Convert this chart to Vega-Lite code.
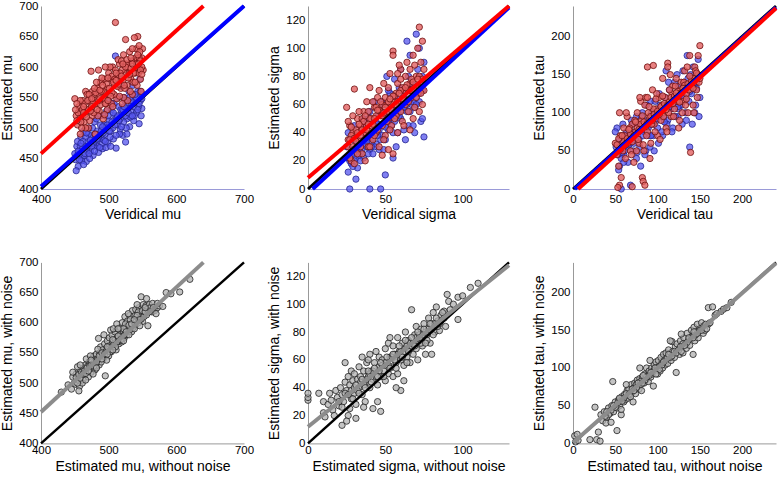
{
"$schema":"https://vega.github.io/schema/vega-lite/v6.json",
"padding":{"left":0,"top":-2,"right":0,"bottom":0},
"config":{"view":{"stroke":null},"font":"Liberation Sans",
"axis":{"grid":false,"ticks":false,"labelFont":"Liberation Sans","labelFontSize":11.5,"labelColor":"#000","titleFont":"Liberation Sans","titleFontSize":14,"titleFontWeight":"normal","titleColor":"#000","domainColor":"#999","labelPadding":3,"titlePadding":4,"labelFlush":false,"labelOverlap":false,"labelBound":false},
"axisX":{"labelPadding":4,"titlePadding":3}},
"datasets":{
"p1b":[{"x":451,"y":448},{"x":453,"y":470},{"x":455,"y":437},{"x":452,"y":430},{"x":457,"y":462},{"x":459,"y":485},{"x":461,"y":452},{"x":463,"y":495},{"x":465,"y":470},{"x":467,"y":445},{"x":469,"y":478},{"x":471,"y":500},{"x":473,"y":462},{"x":475,"y":488},{"x":477,"y":455},{"x":479,"y":510},{"x":481,"y":472},{"x":483,"y":495},{"x":485,"y":460},{"x":487,"y":520},{"x":489,"y":483},{"x":491,"y":466},{"x":493,"y":505},{"x":495,"y":490},{"x":497,"y":528},{"x":499,"y":475},{"x":501,"y":512},{"x":503,"y":495},{"x":505,"y":540},{"x":507,"y":482},{"x":509,"y":520},{"x":511,"y":467},{"x":513,"y":505},{"x":515,"y":535},{"x":517,"y":498},{"x":519,"y":525},{"x":521,"y":488},{"x":523,"y":550},{"x":525,"y":477},{"x":527,"y":515},{"x":529,"y":540},{"x":531,"y":502},{"x":533,"y":528},{"x":535,"y":555},{"x":537,"y":512},{"x":539,"y":540},{"x":541,"y":525},{"x":543,"y":560},{"x":545,"y":507},{"x":547,"y":545},{"x":549,"y":532},{"x":550,"y":555},{"x":548,"y":520},{"x":546,"y":580},{"x":544,"y":535},{"x":542,"y":600},{"x":540,"y":548},{"x":538,"y":520},{"x":536,"y":570},{"x":534,"y":540},{"x":532,"y":518},{"x":530,"y":560},{"x":528,"y":532},{"x":526,"y":500},{"x":524,"y":545},{"x":522,"y":510},{"x":520,"y":568},{"x":518,"y":530},{"x":516,"y":490},{"x":514,"y":550},{"x":512,"y":518},{"x":510,"y":618},{"x":508,"y":540},{"x":506,"y":500},{"x":504,"y":530},{"x":502,"y":485},{"x":500,"y":545},{"x":498,"y":505},{"x":496,"y":468},{"x":494,"y":520},{"x":492,"y":492},{"x":490,"y":475},{"x":488,"y":505},{"x":486,"y":482},{"x":484,"y":470},{"x":482,"y":515},{"x":480,"y":488},{"x":478,"y":470},{"x":476,"y":500},{"x":474,"y":475},{"x":472,"y":450},{"x":470,"y":490},{"x":468,"y":462},{"x":466,"y":485},{"x":464,"y":455},{"x":462,"y":478},{"x":460,"y":446},{"x":458,"y":470},{"x":456,"y":455},{"x":454,"y":478},{"x":453,"y":455},{"x":457,"y":448},{"x":461,"y":465},{"x":465,"y":458},{"x":469,"y":470},{"x":473,"y":480},{"x":477,"y":475},{"x":481,"y":490},{"x":485,"y":485},{"x":489,"y":495},{"x":493,"y":480},{"x":497,"y":500},{"x":501,"y":495},{"x":505,"y":510},{"x":509,"y":505},{"x":513,"y":520},{"x":517,"y":515},{"x":521,"y":530},{"x":525,"y":520},{"x":529,"y":525},{"x":533,"y":545},{"x":537,"y":535},{"x":541,"y":550},{"x":545,"y":540},{"x":549,"y":548},{"x":459,"y":475},{"x":467,"y":492},{"x":475,"y":470},{"x":483,"y":482},{"x":491,"y":502},{"x":499,"y":520},{"x":507,"y":525},{"x":515,"y":512},{"x":523,"y":535},{"x":531,"y":550},{"x":539,"y":555},{"x":547,"y":560},{"x":463,"y":440},{"x":471,"y":458},{"x":479,"y":462},{"x":487,"y":468},{"x":495,"y":478},{"x":503,"y":470},{"x":511,"y":488},{"x":519,"y":502},{"x":527,"y":490},{"x":535,"y":520},{"x":543,"y":530},{"x":450,"y":458},{"x":455,"y":462}],
"p1r":[{"x":450,"y":548},{"x":452,"y":520},{"x":454,"y":505},{"x":456,"y":535},{"x":458,"y":490},{"x":460,"y":525},{"x":462,"y":545},{"x":464,"y":510},{"x":466,"y":560},{"x":468,"y":530},{"x":470,"y":500},{"x":472,"y":548},{"x":474,"y":593},{"x":476,"y":520},{"x":478,"y":555},{"x":480,"y":490},{"x":482,"y":540},{"x":484,"y":565},{"x":486,"y":528},{"x":488,"y":575},{"x":490,"y":545},{"x":492,"y":515},{"x":494,"y":580},{"x":496,"y":555},{"x":498,"y":530},{"x":500,"y":590},{"x":502,"y":560},{"x":504,"y":540},{"x":506,"y":600},{"x":508,"y":572},{"x":510,"y":673},{"x":512,"y":548},{"x":514,"y":585},{"x":516,"y":605},{"x":518,"y":565},{"x":520,"y":540},{"x":522,"y":620},{"x":524,"y":590},{"x":525,"y":645},{"x":527,"y":570},{"x":529,"y":600},{"x":531,"y":625},{"x":533,"y":580},{"x":535,"y":555},{"x":537,"y":610},{"x":539,"y":590},{"x":541,"y":630},{"x":543,"y":650},{"x":545,"y":600},{"x":547,"y":580},{"x":549,"y":615},{"x":551,"y":595},{"x":550,"y":630},{"x":548,"y":560},{"x":546,"y":625},{"x":544,"y":590},{"x":542,"y":570},{"x":540,"y":615},{"x":538,"y":598},{"x":536,"y":575},{"x":534,"y":610},{"x":532,"y":560},{"x":530,"y":590},{"x":528,"y":545},{"x":526,"y":605},{"x":524,"y":565},{"x":522,"y":550},{"x":520,"y":595},{"x":518,"y":580},{"x":516,"y":552},{"x":514,"y":612},{"x":512,"y":570},{"x":510,"y":595},{"x":508,"y":555},{"x":506,"y":535},{"x":504,"y":580},{"x":502,"y":600},{"x":500,"y":555},{"x":498,"y":565},{"x":496,"y":540},{"x":494,"y":522},{"x":492,"y":560},{"x":490,"y":582},{"x":488,"y":538},{"x":486,"y":555},{"x":484,"y":520},{"x":482,"y":575},{"x":480,"y":545},{"x":478,"y":525},{"x":476,"y":560},{"x":474,"y":540},{"x":472,"y":512},{"x":470,"y":530},{"x":468,"y":555},{"x":466,"y":500},{"x":464,"y":540},{"x":462,"y":520},{"x":460,"y":500},{"x":458,"y":545},{"x":455,"y":525},{"x":535,"y":630},{"x":538,"y":648},{"x":545,"y":635},{"x":519,"y":610},{"x":505,"y":585},{"x":495,"y":600},{"x":485,"y":595},{"x":457,"y":515},{"x":461,"y":530},{"x":465,"y":522},{"x":469,"y":545},{"x":473,"y":528},{"x":477,"y":540},{"x":481,"y":558},{"x":485,"y":545},{"x":489,"y":560},{"x":493,"y":548},{"x":497,"y":572},{"x":501,"y":565},{"x":505,"y":558},{"x":509,"y":580},{"x":513,"y":568},{"x":517,"y":590},{"x":521,"y":578},{"x":525,"y":600},{"x":529,"y":582},{"x":533,"y":598},{"x":537,"y":590},{"x":541,"y":605},{"x":545,"y":615},{"x":549,"y":600},{"x":459,"y":510},{"x":463,"y":535},{"x":467,"y":518},{"x":471,"y":555},{"x":475,"y":535},{"x":479,"y":565},{"x":483,"y":530},{"x":487,"y":562},{"x":491,"y":570},{"x":495,"y":540},{"x":499,"y":582},{"x":503,"y":552},{"x":507,"y":575},{"x":511,"y":590},{"x":515,"y":572},{"x":519,"y":585},{"x":523,"y":570},{"x":527,"y":612},{"x":531,"y":588},{"x":535,"y":605},{"x":539,"y":575},{"x":543,"y":620},{"x":547,"y":595},{"x":451,"y":530},{"x":453,"y":540},{"x":547,"y":610},{"x":544,"y":605},{"x":533,"y":615},{"x":521,"y":605},{"x":511,"y":578},{"x":499,"y":545},{"x":487,"y":548},{"x":475,"y":548},{"x":463,"y":525},{"x":453,"y":512},{"x":549,"y":588}],
"p2b":[{"x":27,"y":0},{"x":40,"y":0},{"x":47,"y":0},{"x":31,"y":7},{"x":50,"y":10},{"x":26,"y":12},{"x":28,"y":18},{"x":30,"y":25},{"x":32,"y":15},{"x":34,"y":30},{"x":36,"y":22},{"x":38,"y":35},{"x":40,"y":28},{"x":42,"y":40},{"x":44,"y":32},{"x":46,"y":45},{"x":48,"y":38},{"x":50,"y":52},{"x":52,"y":42},{"x":54,"y":58},{"x":56,"y":48},{"x":58,"y":62},{"x":60,"y":50},{"x":62,"y":66},{"x":64,"y":105},{"x":66,"y":55},{"x":68,"y":72},{"x":70,"y":110},{"x":72,"y":62},{"x":74,"y":80},{"x":75,"y":37},{"x":73,"y":48},{"x":71,"y":68},{"x":69,"y":58},{"x":67,"y":75},{"x":65,"y":45},{"x":63,"y":60},{"x":61,"y":70},{"x":59,"y":52},{"x":57,"y":65},{"x":55,"y":40},{"x":53,"y":68},{"x":51,"y":45},{"x":49,"y":60},{"x":47,"y":35},{"x":45,"y":52},{"x":43,"y":30},{"x":41,"y":48},{"x":39,"y":25},{"x":37,"y":45},{"x":35,"y":28},{"x":33,"y":40},{"x":31,"y":22},{"x":29,"y":35},{"x":27,"y":20},{"x":25,"y":30},{"x":26,"y":40},{"x":28,"y":28},{"x":30,"y":45},{"x":32,"y":33},{"x":34,"y":20},{"x":36,"y":50},{"x":38,"y":30},{"x":40,"y":55},{"x":42,"y":25},{"x":44,"y":48},{"x":46,"y":28},{"x":48,"y":62},{"x":50,"y":35},{"x":52,"y":70},{"x":54,"y":45},{"x":56,"y":78},{"x":58,"y":40},{"x":60,"y":85},{"x":62,"y":42},{"x":64,"y":55},{"x":66,"y":95},{"x":68,"y":45},{"x":70,"y":65},{"x":72,"y":100},{"x":74,"y":50},{"x":75,"y":90},{"x":73,"y":75},{"x":71,"y":85},{"x":69,"y":40},{"x":67,"y":60},{"x":65,"y":80},{"x":63,"y":35},{"x":61,"y":58},{"x":59,"y":72},{"x":57,"y":30},{"x":55,"y":22},{"x":53,"y":50},{"x":51,"y":80},{"x":49,"y":28},{"x":47,"y":55},{"x":45,"y":38},{"x":43,"y":62},{"x":41,"y":33},{"x":39,"y":50},{"x":28,"y":24},{"x":32,"y":28},{"x":36,"y":32},{"x":40,"y":38},{"x":44,"y":40},{"x":48,"y":46},{"x":52,"y":48},{"x":56,"y":52},{"x":60,"y":56},{"x":64,"y":60},{"x":68,"y":62},{"x":72,"y":68},{"x":30,"y":20},{"x":34,"y":26},{"x":38,"y":34},{"x":42,"y":36},{"x":46,"y":42},{"x":50,"y":44},{"x":54,"y":52},{"x":58,"y":54},{"x":62,"y":58},{"x":66,"y":64},{"x":70,"y":60},{"x":74,"y":70},{"x":26,"y":22},{"x":29,"y":16},{"x":33,"y":24},{"x":37,"y":36},{"x":41,"y":30},{"x":45,"y":46}],
"p2r":[{"x":25,"y":58},{"x":26,"y":35},{"x":27,"y":45},{"x":28,"y":20},{"x":29,"y":40},{"x":30,"y":71},{"x":31,"y":28},{"x":32,"y":50},{"x":33,"y":35},{"x":34,"y":45},{"x":35,"y":25},{"x":36,"y":55},{"x":37,"y":40},{"x":38,"y":62},{"x":39,"y":30},{"x":40,"y":72},{"x":41,"y":45},{"x":42,"y":35},{"x":43,"y":58},{"x":44,"y":40},{"x":45,"y":65},{"x":46,"y":30},{"x":47,"y":55},{"x":48,"y":45},{"x":49,"y":75},{"x":50,"y":38},{"x":51,"y":60},{"x":52,"y":50},{"x":53,"y":82},{"x":54,"y":45},{"x":55,"y":98},{"x":56,"y":62},{"x":57,"y":52},{"x":58,"y":75},{"x":59,"y":58},{"x":60,"y":85},{"x":61,"y":48},{"x":62,"y":70},{"x":63,"y":60},{"x":64,"y":90},{"x":65,"y":55},{"x":66,"y":75},{"x":67,"y":65},{"x":68,"y":95},{"x":69,"y":58},{"x":70,"y":80},{"x":71,"y":68},{"x":72,"y":115},{"x":73,"y":72},{"x":74,"y":105},{"x":75,"y":85},{"x":74,"y":60},{"x":73,"y":90},{"x":72,"y":55},{"x":71,"y":100},{"x":70,"y":65},{"x":69,"y":88},{"x":68,"y":50},{"x":67,"y":78},{"x":66,"y":42},{"x":65,"y":70},{"x":64,"y":62},{"x":63,"y":80},{"x":62,"y":45},{"x":61,"y":72},{"x":60,"y":55},{"x":59,"y":88},{"x":58,"y":40},{"x":57,"y":68},{"x":56,"y":50},{"x":55,"y":95},{"x":54,"y":60},{"x":53,"y":42},{"x":52,"y":72},{"x":51,"y":55},{"x":50,"y":65},{"x":49,"y":35},{"x":48,"y":60},{"x":47,"y":52},{"x":46,"y":70},{"x":45,"y":42},{"x":44,"y":58},{"x":43,"y":38},{"x":42,"y":62},{"x":41,"y":50},{"x":40,"y":30},{"x":39,"y":55},{"x":38,"y":45},{"x":37,"y":20},{"x":36,"y":40},{"x":35,"y":50},{"x":34,"y":30},{"x":33,"y":55},{"x":32,"y":25},{"x":31,"y":42},{"x":30,"y":18},{"x":29,"y":52},{"x":28,"y":38},{"x":27,"y":22},{"x":26,"y":48},{"x":55,"y":25},{"x":48,"y":24},{"x":52,"y":28},{"x":60,"y":78},{"x":58,"y":82},{"x":66,"y":85},{"x":26,"y":30},{"x":28,"y":44},{"x":30,"y":36},{"x":32,"y":40},{"x":34,"y":38},{"x":36,"y":48},{"x":38,"y":42},{"x":40,"y":50},{"x":42,"y":46},{"x":44,"y":52},{"x":46,"y":56},{"x":48,"y":52},{"x":50,"y":58},{"x":52,"y":62},{"x":54,"y":56},{"x":56,"y":66},{"x":58,"y":62},{"x":60,"y":70},{"x":62,"y":64},{"x":64,"y":74},{"x":66,"y":70},{"x":68,"y":76},{"x":70,"y":72},{"x":72,"y":80},{"x":74,"y":78},{"x":27,"y":35},{"x":31,"y":34},{"x":35,"y":42},{"x":39,"y":46},{"x":43,"y":50},{"x":47,"y":62},{"x":51,"y":48},{"x":55,"y":66},{"x":59,"y":68},{"x":63,"y":72},{"x":67,"y":70},{"x":71,"y":78},{"x":75,"y":70},{"x":29,"y":30},{"x":33,"y":46},{"x":37,"y":52},{"x":41,"y":40},{"x":45,"y":56},{"x":49,"y":54},{"x":53,"y":64},{"x":57,"y":60},{"x":61,"y":64},{"x":65,"y":62},{"x":69,"y":70},{"x":73,"y":68}],
"p3b":[{"x":52,"y":80},{"x":55,"y":30},{"x":57,"y":0},{"x":60,"y":45},{"x":62,"y":70},{"x":65,"y":55},{"x":68,"y":5},{"x":70,"y":85},{"x":72,"y":60},{"x":75,"y":95},{"x":78,"y":65},{"x":80,"y":30},{"x":82,"y":100},{"x":84,"y":75},{"x":86,"y":50},{"x":88,"y":90},{"x":90,"y":70},{"x":92,"y":115},{"x":94,"y":85},{"x":96,"y":50},{"x":98,"y":100},{"x":100,"y":80},{"x":102,"y":125},{"x":104,"y":95},{"x":106,"y":70},{"x":108,"y":110},{"x":110,"y":155},{"x":112,"y":90},{"x":114,"y":130},{"x":116,"y":105},{"x":118,"y":80},{"x":120,"y":140},{"x":122,"y":115},{"x":124,"y":95},{"x":126,"y":135},{"x":128,"y":110},{"x":130,"y":155},{"x":132,"y":120},{"x":134,"y":90},{"x":136,"y":145},{"x":138,"y":55},{"x":140,"y":125},{"x":142,"y":160},{"x":144,"y":100},{"x":146,"y":140},{"x":148,"y":170},{"x":150,"y":120},{"x":149,"y":95},{"x":147,"y":150},{"x":145,"y":110},{"x":143,"y":135},{"x":141,"y":85},{"x":139,"y":150},{"x":137,"y":115},{"x":135,"y":175},{"x":133,"y":100},{"x":131,"y":140},{"x":129,"y":85},{"x":127,"y":125},{"x":125,"y":105},{"x":123,"y":150},{"x":121,"y":95},{"x":119,"y":120},{"x":117,"y":75},{"x":115,"y":110},{"x":113,"y":140},{"x":111,"y":85},{"x":109,"y":120},{"x":107,"y":95},{"x":105,"y":75},{"x":103,"y":110},{"x":101,"y":60},{"x":99,"y":90},{"x":97,"y":115},{"x":95,"y":70},{"x":93,"y":100},{"x":91,"y":55},{"x":89,"y":80},{"x":87,"y":110},{"x":85,"y":45},{"x":83,"y":70},{"x":81,"y":95},{"x":79,"y":55},{"x":77,"y":85},{"x":75,"y":40},{"x":73,"y":75},{"x":71,"y":50},{"x":69,"y":90},{"x":67,"y":60},{"x":65,"y":35},{"x":63,"y":75},{"x":61,"y":50},{"x":59,"y":85},{"x":57,"y":40},{"x":55,"y":65},{"x":53,"y":45},{"x":51,"y":55},{"x":50,"y":75},{"x":54,"y":25},{"x":58,"y":60},{"x":54,"y":50},{"x":58,"y":48},{"x":62,"y":60},{"x":66,"y":58},{"x":70,"y":72},{"x":74,"y":64},{"x":78,"y":76},{"x":82,"y":78},{"x":86,"y":86},{"x":90,"y":84},{"x":94,"y":96},{"x":98,"y":92},{"x":102,"y":104},{"x":106,"y":100},{"x":110,"y":110},{"x":114,"y":108},{"x":118,"y":118},{"x":122,"y":112},{"x":126,"y":124},{"x":130,"y":120},{"x":134,"y":132},{"x":138,"y":128},{"x":142,"y":138},{"x":146,"y":132},{"x":150,"y":148},{"x":60,"y":35},{"x":76,"y":48},{"x":92,"y":70},{"x":108,"y":88},{"x":124,"y":108}],
"p3r":[{"x":50,"y":60},{"x":52,"y":45},{"x":54,"y":30},{"x":55,"y":100},{"x":56,"y":70},{"x":58,"y":55},{"x":60,"y":80},{"x":62,"y":40},{"x":64,"y":95},{"x":66,"y":65},{"x":68,"y":50},{"x":70,"y":85},{"x":72,"y":35},{"x":74,"y":75},{"x":76,"y":100},{"x":78,"y":60},{"x":80,"y":115},{"x":82,"y":85},{"x":84,"y":50},{"x":86,"y":120},{"x":88,"y":75},{"x":90,"y":95},{"x":92,"y":60},{"x":94,"y":130},{"x":96,"y":85},{"x":98,"y":105},{"x":100,"y":70},{"x":102,"y":120},{"x":104,"y":90},{"x":106,"y":145},{"x":108,"y":100},{"x":110,"y":80},{"x":112,"y":165},{"x":114,"y":115},{"x":116,"y":95},{"x":118,"y":135},{"x":120,"y":105},{"x":122,"y":145},{"x":124,"y":120},{"x":126,"y":90},{"x":128,"y":140},{"x":130,"y":115},{"x":132,"y":155},{"x":134,"y":125},{"x":136,"y":100},{"x":138,"y":175},{"x":140,"y":135},{"x":142,"y":110},{"x":144,"y":160},{"x":146,"y":130},{"x":148,"y":175},{"x":150,"y":188},{"x":149,"y":140},{"x":147,"y":120},{"x":145,"y":155},{"x":143,"y":100},{"x":141,"y":145},{"x":139,"y":48},{"x":137,"y":130},{"x":135,"y":160},{"x":133,"y":110},{"x":131,"y":140},{"x":129,"y":100},{"x":127,"y":130},{"x":125,"y":80},{"x":123,"y":115},{"x":121,"y":135},{"x":119,"y":95},{"x":117,"y":125},{"x":115,"y":150},{"x":113,"y":100},{"x":111,"y":75},{"x":109,"y":120},{"x":107,"y":95},{"x":105,"y":110},{"x":103,"y":65},{"x":101,"y":100},{"x":99,"y":125},{"x":97,"y":75},{"x":95,"y":105},{"x":93,"y":85},{"x":91,"y":40},{"x":89,"y":100},{"x":87,"y":70},{"x":85,"y":110},{"x":83,"y":58},{"x":81,"y":90},{"x":79,"y":120},{"x":77,"y":65},{"x":75,"y":50},{"x":73,"y":90},{"x":71,"y":70},{"x":69,"y":45},{"x":67,"y":80},{"x":65,"y":60},{"x":63,"y":100},{"x":61,"y":70},{"x":59,"y":50},{"x":57,"y":15},{"x":55,"y":5},{"x":82,"y":15},{"x":83,"y":10},{"x":85,"y":5},{"x":70,"y":3},{"x":53,"y":2},{"x":88,"y":160},{"x":95,"y":162},{"x":88,"y":120},{"x":112,"y":160},{"x":52,"y":58},{"x":56,"y":52},{"x":60,"y":62},{"x":64,"y":66},{"x":68,"y":72},{"x":72,"y":70},{"x":76,"y":80},{"x":80,"y":85},{"x":84,"y":88},{"x":88,"y":86},{"x":92,"y":95},{"x":96,"y":98},{"x":100,"y":102},{"x":104,"y":108},{"x":108,"y":112},{"x":112,"y":110},{"x":116,"y":120},{"x":120,"y":122},{"x":124,"y":128},{"x":128,"y":126},{"x":132,"y":136},{"x":136,"y":138},{"x":140,"y":142},{"x":144,"y":145},{"x":148,"y":150},{"x":54,"y":66},{"x":58,"y":70},{"x":62,"y":58},{"x":66,"y":78},{"x":70,"y":62},{"x":74,"y":88},{"x":78,"y":78},{"x":82,"y":96},{"x":86,"y":82},{"x":90,"y":108},{"x":94,"y":90},{"x":98,"y":118},{"x":102,"y":98},{"x":106,"y":122},{"x":110,"y":104},{"x":114,"y":130},{"x":118,"y":112},{"x":122,"y":126},{"x":126,"y":114},{"x":130,"y":132},{"x":134,"y":118},{"x":138,"y":148},{"x":142,"y":132},{"x":146,"y":152},{"x":150,"y":145}],
"p4":[{"x":430,"y":485},{"x":440,"y":497},{"x":445,"y":490},{"x":447,"y":510},{"x":449,"y":500},{"x":451,"y":498},{"x":452,"y":515},{"x":455,"y":505},{"x":457,"y":495},{"x":458,"y":520},{"x":460,"y":512},{"x":462,"y":505},{"x":463,"y":525},{"x":465,"y":515},{"x":466,"y":530},{"x":468,"y":520},{"x":470,"y":510},{"x":471,"y":535},{"x":472,"y":525},{"x":474,"y":518},{"x":475,"y":540},{"x":476,"y":528},{"x":478,"y":545},{"x":479,"y":532},{"x":480,"y":522},{"x":482,"y":548},{"x":483,"y":538},{"x":485,"y":574},{"x":486,"y":530},{"x":487,"y":550},{"x":488,"y":560},{"x":490,"y":545},{"x":491,"y":555},{"x":492,"y":540},{"x":494,"y":565},{"x":495,"y":512},{"x":496,"y":552},{"x":498,"y":570},{"x":499,"y":558},{"x":500,"y":545},{"x":501,"y":575},{"x":502,"y":562},{"x":504,"y":552},{"x":505,"y":580},{"x":506,"y":568},{"x":508,"y":560},{"x":509,"y":585},{"x":510,"y":572},{"x":511,"y":555},{"x":513,"y":590},{"x":514,"y":575},{"x":515,"y":565},{"x":517,"y":592},{"x":518,"y":580},{"x":519,"y":568},{"x":520,"y":600},{"x":522,"y":585},{"x":523,"y":575},{"x":524,"y":610},{"x":526,"y":592},{"x":527,"y":580},{"x":528,"y":603},{"x":530,"y":590},{"x":531,"y":612},{"x":533,"y":598},{"x":534,"y":585},{"x":535,"y":620},{"x":537,"y":605},{"x":538,"y":595},{"x":540,"y":622},{"x":541,"y":610},{"x":543,"y":600},{"x":545,"y":625},{"x":546,"y":615},{"x":548,"y":643},{"x":549,"y":620},{"x":551,"y":630},{"x":553,"y":615},{"x":555,"y":628},{"x":557,"y":622},{"x":560,"y":630},{"x":562,"y":625},{"x":565,"y":632},{"x":568,"y":620},{"x":572,"y":625},{"x":575,"y":628},{"x":580,"y":627},{"x":585,"y":650},{"x":592,"y":648},{"x":605,"y":651},{"x":620,"y":672},{"x":456,"y":487},{"x":461,"y":500},{"x":467,"y":540},{"x":473,"y":545},{"x":481,"y":528},{"x":489,"y":535},{"x":497,"y":538},{"x":503,"y":588},{"x":512,"y":598},{"x":516,"y":570},{"x":521,"y":578},{"x":525,"y":598},{"x":529,"y":615},{"x":532,"y":605},{"x":536,"y":592},{"x":539,"y":612},{"x":544,"y":618},{"x":550,"y":602},{"x":558,"y":595},{"x":447,"y":518},{"x":454,"y":527},{"x":469,"y":528},{"x":477,"y":515},{"x":484,"y":556},{"x":493,"y":580},{"x":507,"y":590},{"x":542,"y":630},{"x":556,"y":640},{"x":564,"y":618},{"x":452,"y":509},{"x":456,"y":514},{"x":460,"y":518},{"x":464,"y":520},{"x":468,"y":525},{"x":472,"y":529},{"x":476,"y":530},{"x":480,"y":537},{"x":484,"y":540},{"x":488,"y":545},{"x":492,"y":549},{"x":496,"y":552},{"x":500,"y":556},{"x":504,"y":560},{"x":508,"y":565},{"x":512,"y":568},{"x":516,"y":572},{"x":520,"y":577},{"x":524,"y":580},{"x":528,"y":585},{"x":532,"y":589},{"x":536,"y":592},{"x":540,"y":597},{"x":544,"y":600},{"x":548,"y":606},{"x":552,"y":610},{"x":556,"y":613},{"x":560,"y":618},{"x":566,"y":625},{"x":572,"y":632},{"x":454,"y":500},{"x":458,"y":508},{"x":462,"y":515},{"x":466,"y":516},{"x":470,"y":520},{"x":474,"y":530},{"x":478,"y":528},{"x":482,"y":535},{"x":486,"y":545},{"x":490,"y":550},{"x":494,"y":548},{"x":498,"y":560},{"x":502,"y":552},{"x":506,"y":572},{"x":510,"y":560},{"x":514,"y":578},{"x":518,"y":572},{"x":522,"y":590},{"x":526,"y":585},{"x":530,"y":596},{"x":534,"y":598},{"x":538,"y":590},{"x":542,"y":612},{"x":546,"y":605},{"x":550,"y":620},{"x":554,"y":618},{"x":458,"y":530},{"x":466,"y":505},{"x":474,"y":538},{"x":482,"y":525},{"x":490,"y":540},{"x":498,"y":548},{"x":506,"y":555},{"x":514,"y":590},{"x":522,"y":570},{"x":530,"y":580},{"x":538,"y":605},{"x":546,"y":595},{"x":554,"y":625},{"x":570,"y":615}],
"p5":[{"x":0,"y":31},{"x":0,"y":33},{"x":0,"y":36},{"x":7,"y":36},{"x":10,"y":30},{"x":10,"y":22},{"x":11,"y":19},{"x":13,"y":28},{"x":14,"y":36},{"x":15,"y":31},{"x":16,"y":24},{"x":17,"y":20},{"x":18,"y":38},{"x":19,"y":33},{"x":20,"y":27},{"x":21,"y":40},{"x":22,"y":13},{"x":22,"y":35},{"x":23,"y":30},{"x":24,"y":58},{"x":24,"y":44},{"x":25,"y":38},{"x":26,"y":20},{"x":26,"y":48},{"x":27,"y":42},{"x":28,"y":32},{"x":28,"y":52},{"x":29,"y":45},{"x":30,"y":36},{"x":30,"y":50},{"x":31,"y":28},{"x":32,"y":46},{"x":33,"y":55},{"x":33,"y":40},{"x":34,"y":48},{"x":35,"y":35},{"x":35,"y":62},{"x":36,"y":52},{"x":37,"y":44},{"x":37,"y":30},{"x":38,"y":58},{"x":39,"y":48},{"x":40,"y":40},{"x":40,"y":64},{"x":41,"y":52},{"x":42,"y":46},{"x":42,"y":25},{"x":43,"y":58},{"x":44,"y":50},{"x":44,"y":66},{"x":45,"y":42},{"x":46,"y":55},{"x":46,"y":62},{"x":47,"y":23},{"x":47,"y":48},{"x":48,"y":60},{"x":49,"y":52},{"x":50,"y":45},{"x":50,"y":68},{"x":51,"y":58},{"x":52,"y":50},{"x":52,"y":72},{"x":53,"y":62},{"x":54,"y":55},{"x":55,"y":70},{"x":55,"y":48},{"x":56,"y":64},{"x":57,"y":58},{"x":58,"y":76},{"x":58,"y":50},{"x":59,"y":66},{"x":60,"y":60},{"x":60,"y":38},{"x":61,"y":72},{"x":62,"y":56},{"x":63,"y":68},{"x":63,"y":80},{"x":64,"y":62},{"x":65,"y":74},{"x":66,"y":58},{"x":67,"y":96},{"x":67,"y":70},{"x":68,"y":64},{"x":69,"y":78},{"x":70,"y":68},{"x":70,"y":84},{"x":71,"y":60},{"x":72,"y":75},{"x":73,"y":82},{"x":74,"y":70},{"x":75,"y":86},{"x":76,"y":64},{"x":77,"y":78},{"x":78,"y":90},{"x":79,"y":72},{"x":80,"y":84},{"x":80,"y":64},{"x":81,"y":94},{"x":82,"y":80},{"x":83,"y":98},{"x":84,"y":88},{"x":85,"y":81},{"x":86,"y":92},{"x":88,"y":95},{"x":90,"y":107},{"x":91,"y":102},{"x":97,"y":89},{"x":97,"y":105},{"x":100,"y":106},{"x":105,"y":112},{"x":110,"y":115},{"x":53,"y":76},{"x":57,"y":40},{"x":62,"y":45},{"x":45,"y":30},{"x":36,"y":26},{"x":31,"y":18},{"x":27,"y":25},{"x":25,"y":16},{"x":39,"y":60},{"x":20,"y":30},{"x":22,"y":26},{"x":24,"y":36},{"x":26,"y":35},{"x":28,"y":38},{"x":30,"y":40},{"x":32,"y":38},{"x":34,"y":44},{"x":36,"y":42},{"x":38,"y":46},{"x":40,"y":50},{"x":42,"y":52},{"x":44,"y":48},{"x":46,"y":52},{"x":48,"y":56},{"x":50,"y":58},{"x":52,"y":56},{"x":54,"y":62},{"x":56,"y":60},{"x":58,"y":64},{"x":60,"y":66},{"x":62,"y":66},{"x":64,"y":70},{"x":66,"y":72},{"x":68,"y":72},{"x":70,"y":76},{"x":72,"y":78},{"x":74,"y":78},{"x":76,"y":80},{"x":78,"y":82},{"x":80,"y":86},{"x":82,"y":86},{"x":84,"y":84},{"x":86,"y":88},{"x":88,"y":90},{"x":29,"y":32},{"x":33,"y":36},{"x":37,"y":40},{"x":41,"y":44},{"x":45,"y":48},{"x":49,"y":48},{"x":53,"y":54},{"x":57,"y":54},{"x":61,"y":62},{"x":65,"y":66},{"x":69,"y":70},{"x":73,"y":72},{"x":77,"y":74},{"x":81,"y":78},{"x":85,"y":86},{"x":31,"y":42},{"x":35,"y":46},{"x":39,"y":52},{"x":43,"y":54},{"x":47,"y":58},{"x":51,"y":62},{"x":55,"y":64},{"x":59,"y":70},{"x":63,"y":74},{"x":67,"y":76},{"x":71,"y":80},{"x":75,"y":82},{"x":79,"y":86},{"x":83,"y":90},{"x":87,"y":94},{"x":92,"y":96},{"x":94,"y":100},{"x":89,"y":84},{"x":76,"y":72},{"x":64,"y":58}],
"p6":[{"x":2,"y":10},{"x":3,"y":2},{"x":5,"y":12},{"x":6,"y":4},{"x":20,"y":5},{"x":26,"y":48},{"x":28,"y":5},{"x":30,"y":15},{"x":32,"y":3},{"x":33,"y":38},{"x":35,"y":30},{"x":37,"y":42},{"x":39,"y":27},{"x":40,"y":35},{"x":42,"y":47},{"x":44,"y":40},{"x":45,"y":28},{"x":46,"y":50},{"x":47,"y":82},{"x":48,"y":42},{"x":50,"y":55},{"x":52,"y":17},{"x":52,"y":47},{"x":54,"y":58},{"x":55,"y":50},{"x":57,"y":38},{"x":58,"y":62},{"x":60,"y":55},{"x":61,"y":65},{"x":62,"y":58},{"x":64,"y":70},{"x":65,"y":60},{"x":66,"y":72},{"x":68,"y":65},{"x":69,"y":78},{"x":70,"y":68},{"x":72,"y":74},{"x":73,"y":80},{"x":74,"y":66},{"x":75,"y":78},{"x":76,"y":84},{"x":78,"y":72},{"x":79,"y":86},{"x":80,"y":78},{"x":81,"y":70},{"x":82,"y":88},{"x":84,"y":80},{"x":85,"y":92},{"x":86,"y":84},{"x":87,"y":100},{"x":88,"y":90},{"x":89,"y":82},{"x":90,"y":96},{"x":92,"y":88},{"x":93,"y":100},{"x":94,"y":92},{"x":95,"y":76},{"x":96,"y":104},{"x":97,"y":96},{"x":98,"y":108},{"x":99,"y":100},{"x":100,"y":92},{"x":101,"y":110},{"x":102,"y":102},{"x":103,"y":96},{"x":104,"y":114},{"x":105,"y":106},{"x":106,"y":100},{"x":107,"y":118},{"x":108,"y":110},{"x":109,"y":104},{"x":110,"y":120},{"x":111,"y":112},{"x":112,"y":106},{"x":113,"y":124},{"x":115,"y":118},{"x":116,"y":110},{"x":117,"y":135},{"x":118,"y":122},{"x":120,"y":114},{"x":121,"y":128},{"x":122,"y":94},{"x":123,"y":132},{"x":125,"y":124},{"x":126,"y":118},{"x":127,"y":136},{"x":129,"y":128},{"x":130,"y":120},{"x":131,"y":140},{"x":133,"y":132},{"x":134,"y":126},{"x":135,"y":146},{"x":137,"y":138},{"x":138,"y":130},{"x":140,"y":150},{"x":141,"y":142},{"x":143,"y":154},{"x":144,"y":136},{"x":145,"y":148},{"x":147,"y":158},{"x":148,"y":140},{"x":150,"y":152},{"x":152,"y":160},{"x":154,"y":146},{"x":156,"y":150},{"x":160,"y":180},{"x":165,"y":181},{"x":168,"y":170},{"x":175,"y":175},{"x":178,"y":178},{"x":182,"y":180},{"x":187,"y":187},{"x":115,"y":136},{"x":128,"y":145},{"x":142,"y":118},{"x":79,"y":100},{"x":63,"y":78},{"x":71,"y":55},{"x":91,"y":110},{"x":57,"y":45},{"x":40,"y":42},{"x":45,"y":44},{"x":50,"y":48},{"x":55,"y":56},{"x":60,"y":60},{"x":65,"y":64},{"x":70,"y":72},{"x":75,"y":74},{"x":80,"y":82},{"x":85,"y":84},{"x":90,"y":90},{"x":95,"y":96},{"x":100,"y":100},{"x":105,"y":104},{"x":110,"y":112},{"x":115,"y":114},{"x":120,"y":122},{"x":125,"y":124},{"x":130,"y":132},{"x":135,"y":134},{"x":140,"y":140},{"x":145,"y":144},{"x":150,"y":150},{"x":155,"y":156},{"x":160,"y":158},{"x":42,"y":38},{"x":48,"y":50},{"x":53,"y":54},{"x":58,"y":56},{"x":63,"y":66},{"x":67,"y":66},{"x":72,"y":70},{"x":77,"y":80},{"x":82,"y":80},{"x":87,"y":88},{"x":92,"y":94},{"x":97,"y":100},{"x":102,"y":98},{"x":107,"y":108},{"x":112,"y":114},{"x":117,"y":116},{"x":122,"y":120},{"x":127,"y":128},{"x":132,"y":130},{"x":137,"y":140},{"x":142,"y":140},{"x":147,"y":146},{"x":152,"y":150},{"x":157,"y":158},{"x":162,"y":160},{"x":38,"y":36},{"x":55,"y":60},{"x":68,"y":62},{"x":83,"y":90},{"x":98,"y":92},{"x":113,"y":118},{"x":128,"y":122},{"x":143,"y":148},{"x":158,"y":152},{"x":170,"y":172}]
},
"columns":3,
"spacing":{"row":73.4,"column":64},
"bounds":"flush",
"concat":[
{"width":203,"height":183,
"encoding":{"x":{"field":"x","type":"quantitative","scale":{"domain":[400,700],"nice":false,"zero":false},"axis":{"title":"Veridical mu","values":[400,500,600,700],"domainColor":"#9a9ad8"}},
"y":{"field":"y","type":"quantitative","scale":{"domain":[400,700],"nice":false,"zero":false},"axis":{"title":"Estimated mu","values":[400,450,500,550,600,650,700]}}},
"layer":[
{"data":{"name":"p1b"},"mark":{"type":"circle","size":40,"opacity":1,"fill":"#5656ee","fillOpacity":0.75,"stroke":"#26268f","strokeWidth":0.8}},
{"data":{"name":"p1r"},"mark":{"type":"circle","size":40,"opacity":1,"fill":"#e26262","fillOpacity":0.8,"stroke":"#6e0f0f","strokeWidth":0.8}},
{"data":{"values":[{"x":400,"y":400},{"x":700,"y":700}]},"mark":{"type":"line","color":"#000","strokeWidth":3},"encoding":{}},
{"data":{"values":[{"x":400,"y":404},{"x":700,"y":700}]},"mark":{"type":"line","color":"#0000ff","strokeWidth":4},"encoding":{}},
{"data":{"values":[{"x":400,"y":458},{"x":640,"y":700}]},"mark":{"type":"line","color":"#ff0000","strokeWidth":4},"encoding":{}}
]},
{"width":201,"height":183,
"encoding":{"x":{"field":"x","type":"quantitative","scale":{"domain":[0,130],"nice":false},"axis":{"title":"Veridical sigma","values":[0,50,100],"domainColor":"#9a9ad8"}},
"y":{"field":"y","type":"quantitative","scale":{"domain":[0,130],"nice":false},"axis":{"title":"Estimated sigma","values":[0,20,40,60,80,100,120]}}},
"layer":[
{"data":{"name":"p2b"},"mark":{"type":"circle","size":40,"opacity":1,"fill":"#5656ee","fillOpacity":0.75,"stroke":"#26268f","strokeWidth":0.8}},
{"data":{"name":"p2r"},"mark":{"type":"circle","size":40,"opacity":1,"fill":"#e26262","fillOpacity":0.8,"stroke":"#6e0f0f","strokeWidth":0.8}},
{"data":{"values":[{"x":0,"y":0},{"x":130,"y":130}]},"mark":{"type":"line","color":"#000","strokeWidth":3},"encoding":{}},
{"data":{"values":[{"x":3,"y":0},{"x":130,"y":129}]},"mark":{"type":"line","color":"#0000ff","strokeWidth":4},"encoding":{}},
{"data":{"values":[{"x":0,"y":8},{"x":130,"y":130}]},"mark":{"type":"line","color":"#ff0000","strokeWidth":4},"encoding":{}}
]},
{"width":203,"height":183,
"encoding":{"x":{"field":"x","type":"quantitative","scale":{"domain":[0,240],"nice":false},"axis":{"title":"Veridical tau","values":[0,50,100,150,200],"domainColor":"#9a9ad8"}},
"y":{"field":"y","type":"quantitative","scale":{"domain":[0,240],"nice":false},"axis":{"title":"Estimated tau","values":[0,50,100,150,200]}}},
"layer":[
{"data":{"name":"p3b"},"mark":{"type":"circle","size":40,"opacity":1,"fill":"#5656ee","fillOpacity":0.75,"stroke":"#26268f","strokeWidth":0.8}},
{"data":{"name":"p3r"},"mark":{"type":"circle","size":40,"opacity":1,"fill":"#e26262","fillOpacity":0.8,"stroke":"#6e0f0f","strokeWidth":0.8}},
{"data":{"values":[{"x":0,"y":0},{"x":240,"y":240}]},"mark":{"type":"line","color":"#000","strokeWidth":3},"encoding":{}},
{"data":{"values":[{"x":2,"y":0},{"x":240,"y":238}]},"mark":{"type":"line","color":"#0000ff","strokeWidth":4},"encoding":{}},
{"data":{"values":[{"x":6,"y":0},{"x":240,"y":237}]},"mark":{"type":"line","color":"#ff0000","strokeWidth":4},"encoding":{}}
]},
{"width":203,"height":181,
"encoding":{"x":{"field":"x","type":"quantitative","scale":{"domain":[400,700],"nice":false,"zero":false},"axis":{"title":"Estimated mu, without noise","values":[400,500,600,700],"labelPadding":1.5,"titlePadding":3}},
"y":{"field":"y","type":"quantitative","scale":{"domain":[400,700],"nice":false,"zero":false},"axis":{"title":"Estimated mu, with noise","values":[400,450,500,550,600,650,700]}}},
"layer":[
{"data":{"name":"p4"},"mark":{"type":"circle","size":40,"opacity":1,"fill":"#b0b0b0","fillOpacity":0.75,"stroke":"#222","strokeWidth":0.8}},
{"data":{"values":[{"x":400,"y":400},{"x":700,"y":700}]},"mark":{"type":"line","color":"#000","strokeWidth":2.5},"encoding":{}},
{"data":{"values":[{"x":400,"y":452},{"x":640,"y":700}]},"mark":{"type":"line","color":"#8c8c8c","strokeWidth":4},"encoding":{}}
]},
{"width":201,"height":181,
"encoding":{"x":{"field":"x","type":"quantitative","scale":{"domain":[0,130],"nice":false},"axis":{"title":"Estimated sigma, without noise","values":[0,50,100],"labelPadding":1.5,"titlePadding":3}},
"y":{"field":"y","type":"quantitative","scale":{"domain":[0,130],"nice":false},"axis":{"title":"Estimated sigma, with noise","values":[0,20,40,60,80,100,120]}}},
"layer":[
{"data":{"name":"p5"},"mark":{"type":"circle","size":40,"opacity":1,"fill":"#b0b0b0","fillOpacity":0.75,"stroke":"#222","strokeWidth":0.8}},
{"data":{"values":[{"x":0,"y":0},{"x":130,"y":130}]},"mark":{"type":"line","color":"#000","strokeWidth":2.5},"encoding":{}},
{"data":{"values":[{"x":0,"y":12},{"x":130,"y":128}]},"mark":{"type":"line","color":"#8c8c8c","strokeWidth":4},"encoding":{}}
]},
{"width":203,"height":181,
"encoding":{"x":{"field":"x","type":"quantitative","scale":{"domain":[0,240],"nice":false},"axis":{"title":"Estimated tau, without noise","values":[0,50,100,150,200],"labelPadding":1.5,"titlePadding":3}},
"y":{"field":"y","type":"quantitative","scale":{"domain":[0,240],"nice":false},"axis":{"title":"Estimated tau, with noise","values":[0,50,100,150,200]}}},
"layer":[
{"data":{"name":"p6"},"mark":{"type":"circle","size":40,"opacity":1,"fill":"#b0b0b0","fillOpacity":0.75,"stroke":"#222","strokeWidth":0.8}},
{"data":{"values":[{"x":0,"y":0},{"x":240,"y":240}]},"mark":{"type":"line","color":"#000","strokeWidth":2.5},"encoding":{}},
{"data":{"values":[{"x":0,"y":1},{"x":240,"y":239}]},"mark":{"type":"line","color":"#8c8c8c","strokeWidth":4},"encoding":{}}
]}
]
}
